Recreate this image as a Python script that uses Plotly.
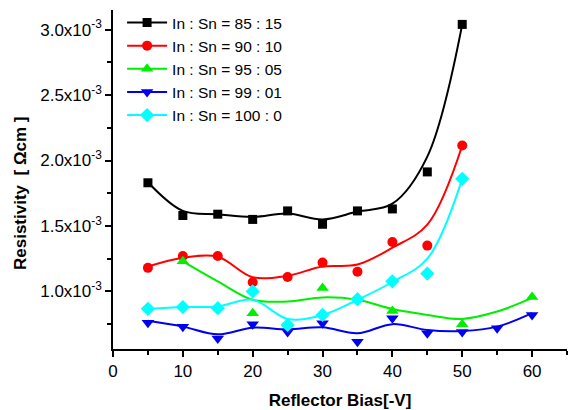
import plotly.graph_objects as go

# ---- data ----
names = ["In : Sn = 85 : 15", "In : Sn = 90 : 10", "In : Sn = 95 : 05",
         "In : Sn = 99 : 01", "In : Sn = 100 : 0"]

x_85 = [5, 10, 15, 20, 25, 30, 35, 40, 45, 50]
y_85 = [1.83, 1.58, 1.59, 1.55, 1.615, 1.513, 1.615, 1.63, 1.913, 3.04]
fit_85 = [1.834, 1.615, 1.59, 1.57, 1.595, 1.55, 1.61, 1.67, 2.03, 3.04]

x_90 = [5, 10, 15, 20, 25, 30, 35, 40, 45, 50]
y_90 = [1.18, 1.27, 1.27, 1.07, 1.11, 1.22, 1.15, 1.377, 1.35, 2.115]
fit_90 = [1.19, 1.257, 1.265, 1.108, 1.12, 1.19, 1.205, 1.334, 1.51, 2.115]

x_95 = [10, 20, 30, 40, 50, 60]
y_95 = [1.23, 0.834, 1.026, 0.85, 0.75, 0.957]
xfit_95 = [10, 15, 20, 25, 30, 35, 40, 45, 50, 55, 60]
fit_95 = [1.23, 1.077, 0.936, 0.923, 0.954, 0.936, 0.865, 0.82, 0.79, 0.846, 0.95]

x_99 = [5, 10, 15, 20, 25, 30, 35, 40, 45, 50, 55, 60]
y_99 = [0.76, 0.73, 0.64, 0.75, 0.69, 0.757, 0.615, 0.795, 0.68, 0.69, 0.718, 0.82]
fit_99 = [0.775, 0.731, 0.672, 0.723, 0.71, 0.726, 0.68, 0.75, 0.705, 0.698, 0.731, 0.834]

x_100 = [5, 10, 15, 20, 25, 30, 35, 40, 45, 50]
y_100 = [0.867, 0.88, 0.872, 1.0, 0.744, 0.82, 0.94, 1.077, 1.136, 1.86]
fit_100 = [0.865, 0.88, 0.885, 0.936, 0.79, 0.82, 0.936, 1.072, 1.25, 1.86]

y_ticks = [1.0, 1.5, 2.0, 2.5, 3.0]
y_minor = [0.75, 1.25, 1.75, 2.25, 2.75]
x_ticks = [0, 10, 20, 30, 40, 50, 60]
SCALE = 1e-3

colors = ["#000000", "#ff0000", "#00ee00", "#0000ee", "#00ffff"]
symbols = ["square", "circle", "triangle-up", "triangle-down", "diamond"]
sizes = [9, 10, 11, 11, 11]

series = [
    (x_85, y_85, x_85, fit_85),
    (x_90, y_90, x_90, fit_90),
    (x_95, y_95, xfit_95, fit_95),
    (x_99, y_99, x_99, fit_99),
    (x_100, y_100, x_100, fit_100),
]

FONT = "Arial, Liberation Sans, sans-serif"
fig = go.Figure()

for i, (xd, yd, xf, yf) in enumerate(series):
    fig.add_trace(go.Scatter(
        x=xf, y=[v * SCALE for v in yf], mode="lines",
        line=dict(color=colors[i], width=2, shape="spline", smoothing=1.0),
        showlegend=False, hoverinfo="skip"))
    fig.add_trace(go.Scatter(
        x=xd, y=[v * SCALE for v in yd], mode="markers",
        marker=dict(color=colors[i], symbol=symbols[i], size=sizes[i], line=dict(width=0)),
        showlegend=False))
    # legend entry (line + marker sample)
    fig.add_trace(go.Scatter(
        x=[None], y=[None], mode="lines+markers", name=names[i],
        line=dict(color=colors[i], width=2),
        marker=dict(color=colors[i], symbol=symbols[i], size=sizes[i], line=dict(width=0))))

fig.update_layout(
    width=570, height=410,
    margin=dict(l=113, r=3, t=10, b=61),
    paper_bgcolor="white", plot_bgcolor="white",
    font=dict(family=FONT, size=16, color="black"),
    legend=dict(x=0.02, y=1.012, xanchor="left", yanchor="top",
                bgcolor="rgba(0,0,0,0)", font=dict(size=15.5),
                tracegroupgap=0, itemwidth=40),
    xaxis=dict(
        range=[0, 65], tickvals=x_ticks, ticks="outside", ticklen=6,
        tickwidth=1.5, tickcolor="black",
        showline=True, linecolor="black", linewidth=1.5,
        showgrid=False, zeroline=False, mirror=False,
        tickfont=dict(size=17),
        minor=dict(dtick=5, tick0=5, ticks="outside", ticklen=4, tickcolor="black", tickwidth=1.5),
        title=dict(text="<b>Reflector Bias[-V]</b>", font=dict(size=17), standoff=14),
    ),
    yaxis=dict(
        range=[0.56e-3, 3.15e-3],
        tickvals=[v * SCALE for v in y_ticks],
        ticktext=["%.1fx10<sup>-3</sup>" % v for v in y_ticks],
        ticks="outside", ticklen=6, tickwidth=1.5, tickcolor="black",
        showline=True, linecolor="black", linewidth=1.5,
        showgrid=False, zeroline=False, mirror=False,
        tickfont=dict(size=17),
        minor=dict(tickvals=[v * SCALE for v in y_minor], ticks="outside", ticklen=4,
                   tickcolor="black", tickwidth=1.5),
    ),
    annotations=[dict(
        text="<b>Resistivity  [ Ωcm ]</b>", textangle=-90,
        xref="paper", yref="paper", x=-0.205, y=0.46,
        xanchor="center", yanchor="middle", showarrow=False,
        font=dict(size=17))],
)

fig.write_html("out.html", config={"displayModeBar": False},
               post_script="document.body.style.margin='0px';")
